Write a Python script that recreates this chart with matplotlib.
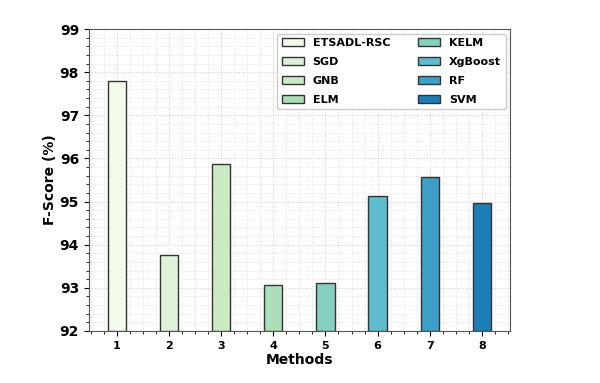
import matplotlib
matplotlib.use("Agg")
import matplotlib.pyplot as plt
import numpy as np
from matplotlib.ticker import AutoMinorLocator

methods = ["ETSADL-RSC", "SGD", "GNB", "ELM", "KELM", "XgBoost", "RF", "SVM"]
positions = [1, 2, 3, 4, 5, 6, 7, 8]
fscore = [97.80, 93.76, 95.88, 93.06, 93.11, 95.14, 95.58, 94.96]

colors = plt.cm.GnBu(np.linspace(0.03, 0.8, len(methods)))

fig = plt.figure(figsize=(6, 3.83), dpi=100)
ax = fig.add_axes([0.148, 0.136, 0.702, 0.788])

for p, v, c, m in zip(positions, fscore, colors, methods):
    ax.bar(p, v - 92, bottom=92, width=0.35, color=c, edgecolor="#333333",
           linewidth=1.0, label=m, zorder=3)

ax.set_ylim(92, 99)
ax.set_xlim(0.46, 8.54)
ax.set_xticks(positions)
ax.set_yticks(range(92, 100))
ax.xaxis.set_minor_locator(AutoMinorLocator(4))
ax.yaxis.set_minor_locator(AutoMinorLocator(5))
ax.grid(which="major", linestyle=":", color="#cccccc", linewidth=0.7, zorder=0)
ax.grid(which="minor", linestyle=":", color="#dddddd", linewidth=0.6, zorder=0)

for lab in ax.get_xticklabels():
    lab.set_fontweight("bold")
    lab.set_fontsize(8)
for lab in ax.get_yticklabels():
    lab.set_fontweight("bold")
    lab.set_fontsize(10)

ax.set_xlabel("Methods", fontsize=10, fontweight="bold", labelpad=2)
ax.set_ylabel("F-Score (%)", fontsize=10, fontweight="bold", labelpad=2)

for s in ax.spines.values():
    s.set_color("#555555")

ax.legend(ncol=2, loc="upper right", prop={"weight": "bold", "size": 8},
          columnspacing=2.5, handlelength=2.0, framealpha=1.0,
          borderaxespad=0.4, labelspacing=0.8)

fig.savefig("out.png", dpi=100)
